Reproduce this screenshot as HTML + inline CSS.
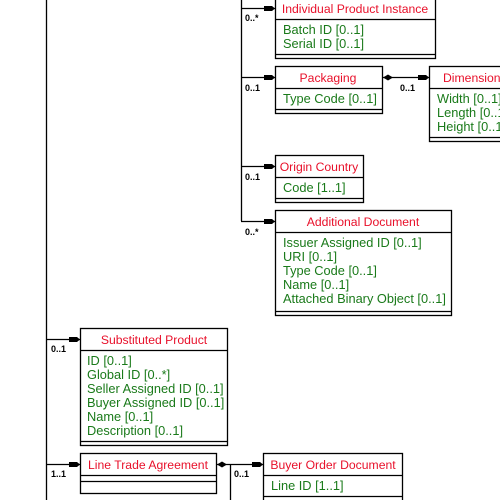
<!DOCTYPE html>
<html><head><style>
html,body{margin:0;padding:0;background:#fff;}
svg{display:block;}
text{font-family:"Liberation Sans",sans-serif;font-size:12.8px;}
.t{fill:#e8102a;text-anchor:middle;font-size:12.2px;}
.a{fill:#1a7a1a;}
.m{font-size:9px;fill:#000;font-weight:bold;}
</style></head><body>
<svg width="500" height="500" viewBox="0 0 500 500" xmlns="http://www.w3.org/2000/svg">
<defs>
<marker id="ar" markerWidth="12" markerHeight="8" refX="11" refY="4" orient="auto" markerUnits="userSpaceOnUse">
<path d="M0,1.5 L8,1.5 L11,4 L8,6.5 L0,6.5 Z" fill="#000"/>
</marker>
</defs>
<g stroke="#000" stroke-width="1.3" fill="none">
<line x1="46.5" y1="0" x2="46.5" y2="500"/>
<line x1="241.5" y1="0" x2="241.5" y2="221"/>
<line x1="230.5" y1="464" x2="230.5" y2="500"/>
<line x1="241" y1="8.5" x2="275" y2="8.5" marker-end="url(#ar)"/>
<line x1="241" y1="77.5" x2="275" y2="77.5" marker-end="url(#ar)"/>
<line x1="241" y1="166.5" x2="275" y2="166.5" marker-end="url(#ar)"/>
<line x1="241" y1="221.5" x2="275" y2="221.5" marker-end="url(#ar)"/>
<line x1="46" y1="339.5" x2="80" y2="339.5" marker-end="url(#ar)"/>
<line x1="46" y1="464.5" x2="80" y2="464.5" marker-end="url(#ar)"/>
<line x1="382" y1="77.5" x2="429" y2="77.5" marker-end="url(#ar)"/>
<line x1="216" y1="464.5" x2="263" y2="464.5" marker-end="url(#ar)"/>
</g>
<path d="M383,77.5 L388,74.5 L393,77.5 L388,80.5 Z" fill="#000"/>
<path d="M217,464.5 L222,461.5 L227,464.5 L222,467.5 Z" fill="#000"/>
<g fill="#fff" stroke="#000" stroke-width="1.3">
<rect x="275.5" y="-5" width="160" height="63.5"/>
<line x1="275" y1="19.5" x2="436" y2="19.5"/><line x1="275" y1="54.5" x2="436" y2="54.5"/>
<rect x="275.5" y="66.5" width="107" height="47"/>
<line x1="275" y1="88.5" x2="383" y2="88.5"/><line x1="275" y1="109.5" x2="383" y2="109.5"/>
<rect x="429.5" y="66.5" width="80" height="75"/>
<line x1="429" y1="88.5" x2="500" y2="88.5"/><line x1="429" y1="137.5" x2="500" y2="137.5"/>
<rect x="275.5" y="155.5" width="88" height="47"/>
<line x1="275" y1="177.5" x2="364" y2="177.5"/><line x1="275" y1="198.5" x2="364" y2="198.5"/>
<rect x="275.5" y="210.5" width="176" height="105"/>
<line x1="275" y1="232.5" x2="452" y2="232.5"/><line x1="275" y1="311.5" x2="452" y2="311.5"/>
<rect x="80.5" y="328.5" width="147" height="117"/>
<line x1="80" y1="350.5" x2="228" y2="350.5"/><line x1="80" y1="441.5" x2="228" y2="441.5"/>
<rect x="80.5" y="453.5" width="136" height="40"/>
<line x1="80" y1="475.5" x2="217" y2="475.5"/><line x1="80" y1="481.5" x2="217" y2="481.5"/>
<rect x="263.5" y="453.5" width="139" height="60"/>
<line x1="263" y1="475.5" x2="403" y2="475.5"/><line x1="263" y1="496.5" x2="403" y2="496.5"/>
</g>
<text class="t" x="355" y="13">Individual Product Instance</text>
<text class="a" x="283" y="34">Batch ID [0..1]</text>
<text class="a" x="283" y="48">Serial ID [0..1]</text>
<text class="t" x="328" y="82">Packaging</text>
<text class="a" x="283" y="103">Type Code [0..1]</text>
<text class="t" x="443" y="82" style="text-anchor:start">Dimensions</text>
<text class="a" x="437" y="103">Width [0..1]</text>
<text class="a" x="437" y="117">Length [0..1]</text>
<text class="a" x="437" y="131">Height [0..1]</text>
<text class="t" x="319" y="171">Origin Country</text>
<text class="a" x="283" y="192">Code [1..1]</text>
<text class="t" x="363" y="226">Additional Document</text>
<text class="a" x="283" y="247">Issuer Assigned ID [0..1]</text>
<text class="a" x="283" y="261">URI [0..1]</text>
<text class="a" x="283" y="275">Type Code [0..1]</text>
<text class="a" x="283" y="289">Name [0..1]</text>
<text class="a" x="283" y="303">Attached Binary Object [0..1]</text>
<text class="t" x="154" y="344">Substituted Product</text>
<text class="a" x="87" y="365">ID [0..1]</text>
<text class="a" x="87" y="379">Global ID [0..*]</text>
<text class="a" x="87" y="393">Seller Assigned ID [0..1]</text>
<text class="a" x="87" y="407">Buyer Assigned ID [0..1]</text>
<text class="a" x="87" y="421">Name [0..1]</text>
<text class="a" x="87" y="435">Description [0..1]</text>
<text class="t" x="148" y="469">Line Trade Agreement</text>
<text class="t" x="333" y="469">Buyer Order Document</text>
<text class="a" x="271" y="490">Line ID [1..1]</text>
<text class="m" x="245" y="21">0..*</text>
<text class="m" x="245" y="91">0..1</text>
<text class="m" x="400" y="91">0..1</text>
<text class="m" x="245" y="180">0..1</text>
<text class="m" x="245" y="235">0..*</text>
<text class="m" x="51" y="352">0..1</text>
<text class="m" x="51" y="477">1..1</text>
<text class="m" x="234" y="477">0..1</text>
</svg>
</body></html>
